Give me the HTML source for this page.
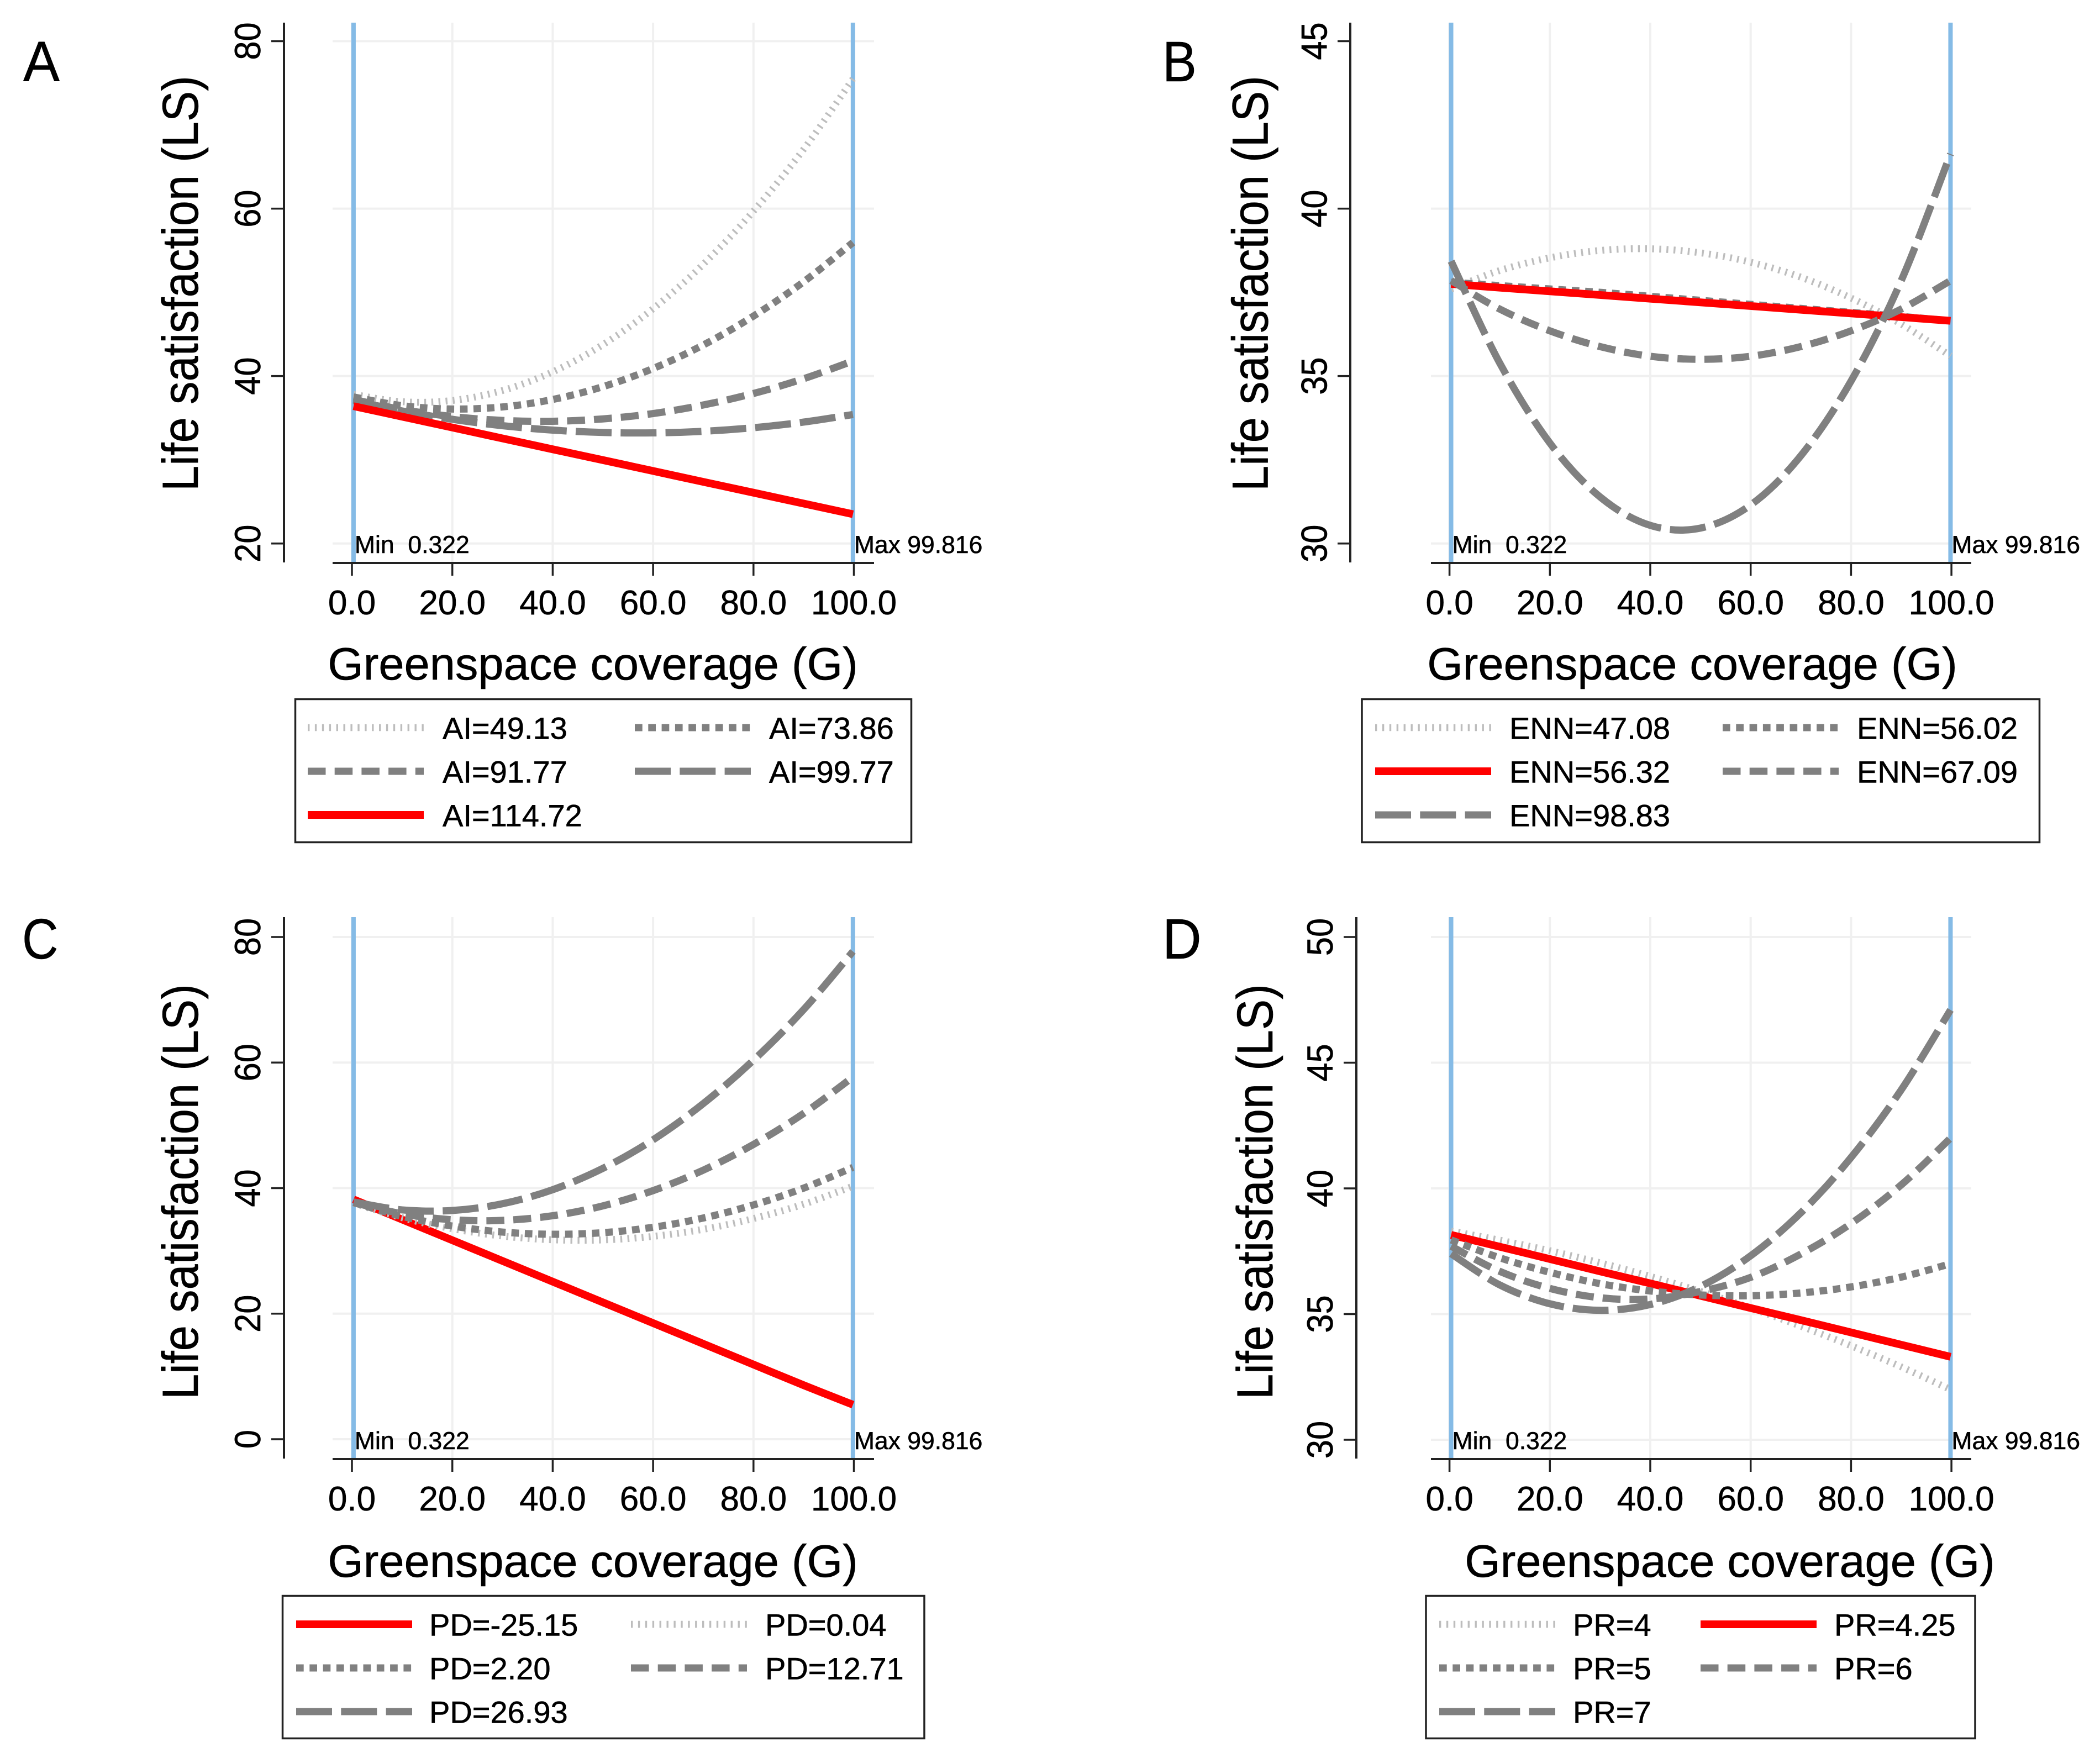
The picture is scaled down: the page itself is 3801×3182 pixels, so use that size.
<!DOCTYPE html>
<html lang="en">
<head>
<meta charset="utf-8">
<title>Life satisfaction versus greenspace coverage</title>
<style>
html,body{margin:0;padding:0;background:#fff;}
body{width:3801px;height:3182px;overflow:hidden;}
svg{display:block;}
text{font-family:"Liberation Sans",Arial,sans-serif;fill:#000;stroke:#000;stroke-width:0.6px;}
</style>
</head>
<body>
<svg id="figure" xmlns="http://www.w3.org/2000/svg" width="3801" height="3182" viewBox="0 0 3801 3182"></svg>
<script>
// ---- shared data ----
const greenspaceValues = [0.322, 10, 20, 30, 40, 50, 60, 70, 80, 90, 99.816];
const xTickValues = [0, 20, 40, 60, 80, 100];
const xTickLabels = ['0.0', '20.0', '40.0', '60.0', '80.0', '100.0'];
const xAxisTitle = 'Greenspace coverage (G)';
const yAxisTitle = 'Life satisfaction (LS)';
const minLabel = 'Min\u00A0\u00A00.322';
const maxLabel = 'Max 99.816';
const minValue = 0.322;
const maxValue = 99.816;

// ---- panel A ----
const aYTicks = [20, 40, 60, 80];
const aYGrid = [20, 40, 60, 80];
const ai4913 = [37.8, 36.93, 37.08, 38.27, 40.5, 43.75, 48.04, 53.35, 59.7, 67.09, 75.5];
const ai7386 = [37.5, 36.46, 36.06, 36.31, 37.2, 38.73, 40.9, 43.71, 47.16, 51.26, 55.95];
const ai9177 = [37.2, 36.0, 35.16, 34.7, 34.6, 34.88, 35.52, 36.54, 37.92, 39.68, 41.8];
const ai9977 = [37.07, 35.83, 34.83, 34.07, 33.54, 33.26, 33.21, 33.4, 33.83, 34.5, 35.4];
const ai11472 = [36.4, 35.15, 33.85, 32.55, 31.25, 29.96, 28.66, 27.36, 26.07, 24.77, 23.5];

// ---- panel B ----
const bYTicks = [30, 35, 40, 45];
const bYGrid = [30, 35, 40];
const enn4708 = [37.6, 38.15, 38.53, 38.75, 38.8, 38.68, 38.4, 37.95, 37.33, 36.55, 35.6];
const enn5602 = [37.8, 37.7, 37.6, 37.5, 37.38, 37.26, 37.14, 37.02, 36.9, 36.78, 36.65];
const enn5632 = [37.75, 37.64, 37.53, 37.42, 37.31, 37.2, 37.09, 36.98, 36.87, 36.76, 36.65];
const enn6709 = [37.85, 37.0, 36.35, 35.88, 35.59, 35.5, 35.59, 35.88, 36.35, 37.0, 37.85];
const enn9883 = [38.43, 35.39, 33.0, 31.39, 30.54, 30.46, 31.15, 32.62, 34.85, 37.85, 41.63];

// ---- panel C ----
const cYTicks = [0, 20, 40, 60, 80];
const cYGrid = [0, 20, 40, 60, 80];
const pdNeg2515 = [38.2, 35.0, 31.7, 28.4, 25.1, 21.8, 18.5, 15.2, 11.9, 8.6, 5.5];
const pd004 = [37.6, 35.28, 33.53, 32.36, 31.77, 31.75, 32.31, 33.44, 35.15, 37.44, 40.3];
const pd220 = [37.7, 35.5, 33.96, 33.0, 32.65, 32.9, 33.76, 35.24, 37.32, 40.0, 43.3];
const pd1271 = [37.7, 35.91, 34.96, 34.86, 35.6, 37.17, 39.6, 42.86, 46.96, 51.9, 57.7];
const pd2693 = [37.8, 36.53, 36.44, 37.51, 39.75, 43.15, 47.7, 53.47, 60.38, 68.45, 77.7];

// ---- panel D ----
const dYTicks = [30, 35, 40, 45, 50];
const dYGrid = [30, 35, 40, 45, 50];
const pr4 = [38.3, 37.94, 37.52, 37.04, 36.5, 35.9, 35.24, 34.52, 33.74, 32.9, 32.0];
const pr425 = [38.15, 37.68, 37.19, 36.7, 36.22, 35.73, 35.24, 34.76, 34.27, 33.78, 33.3];
const pr5 = [37.95, 37.24, 36.66, 36.21, 35.92, 35.76, 35.73, 35.84, 36.08, 36.47, 37.0];
const pr6 = [37.7, 36.7, 36.02, 35.65, 35.6, 35.9, 36.46, 37.39, 38.6, 40.14, 42.0];
const pr7 = [37.4, 36.16, 35.41, 35.15, 35.38, 36.1, 37.32, 39.03, 41.23, 43.92, 47.1];

// ---- line styles ----
const STYLES = {
  thin:  {color: '#bdbdbd', width: 12.5, dash: '3.4 9.5'},
  dot:   {color: '#808080', width: 13, dash: '13.7 10.6'},
  dash:  {color: '#808080', width: 13, dash: '32.5 16.2'},
  long:  {color: '#808080', width: 13, dash: '65 16.3'},
  red:   {color: '#ff0000', width: 14, dash: ''}
};

// ---- panel layouts ----
const panels = [
  {
    id: 'a', letter: 'A', letterX: 42, letterY: 147, letterScale: 0.96,
    x0: 637, axisLeft: 602, axisRight: 1582, yAxisX: 514, top: 41, axisY: 1019,
    lowY: 983.7, highY: 74.5, ticks: aYTicks, gridTicks: aYGrid,
    yLabelX: 471, yTitleX: 358, yTitleY: 513, xTitleX: 1073, xTitleDy: 211,
    legend: {x: 534.5, y: 1265.5, w: 1115, h: 259, col: [[557, 801], [1149, 1392]]},
    series: [
      {label: 'AI=49.13', values: ai4913, style: 'thin', col: 0, row: 0},
      {label: 'AI=73.86', values: ai7386, style: 'dot', col: 1, row: 0},
      {label: 'AI=91.77', values: ai9177, style: 'dash', col: 0, row: 1},
      {label: 'AI=99.77', values: ai9977, style: 'long', col: 1, row: 1},
      {label: 'AI=114.72', values: ai11472, style: 'red', col: 0, row: 2}
    ]
  },
  {
    id: 'b', letter: 'B', letterX: 2104, letterY: 147, letterScale: 0.9,
    x0: 2623.6, axisLeft: 2590, axisRight: 3568, yAxisX: 2444, top: 41, axisY: 1019,
    lowY: 983.7, highY: 74.5, ticks: bYTicks, gridTicks: bYGrid,
    yLabelX: 2401.5, yTitleX: 2294.5, yTitleY: 513, xTitleX: 3063, xTitleDy: 211,
    legend: {x: 2465, y: 1265.5, w: 1226.5, h: 259, col: [[2489, 2732], [3118, 3361]]},
    series: [
      {label: 'ENN=47.08', values: enn4708, style: 'thin', col: 0, row: 0},
      {label: 'ENN=56.02', values: enn5602, style: 'dot', col: 1, row: 0},
      {label: 'ENN=56.32', values: enn5632, style: 'red', col: 0, row: 1},
      {label: 'ENN=67.09', values: enn6709, style: 'dash', col: 1, row: 1},
      {label: 'ENN=98.83', values: enn9883, style: 'long', col: 0, row: 2}
    ]
  },
  {
    id: 'c', letter: 'C', letterX: 40, letterY: 1735, letterScale: 0.88,
    x0: 637, axisLeft: 602, axisRight: 1582, yAxisX: 514, top: 1660, axisY: 2641,
    lowY: 2605, highY: 1696, ticks: cYTicks, gridTicks: cYGrid,
    yLabelX: 471, yTitleX: 358, yTitleY: 2157, xTitleX: 1073, xTitleDy: 213,
    legend: {x: 511.5, y: 2888.5, w: 1161.5, h: 258, col: [[536, 777], [1142, 1385]]},
    series: [
      {label: 'PD=-25.15', values: pdNeg2515, style: 'red', col: 0, row: 0},
      {label: 'PD=0.04', values: pd004, style: 'thin', col: 1, row: 0},
      {label: 'PD=2.20', values: pd220, style: 'dot', col: 0, row: 1},
      {label: 'PD=12.71', values: pd1271, style: 'dash', col: 1, row: 1},
      {label: 'PD=26.93', values: pd2693, style: 'long', col: 0, row: 2}
    ]
  },
  {
    id: 'd', letter: 'D', letterX: 2104, letterY: 1735, letterScale: 0.95,
    x0: 2623.6, axisLeft: 2590, axisRight: 3568, yAxisX: 2455, top: 1660, axisY: 2641,
    lowY: 2606, highY: 1696, ticks: dYTicks, gridTicks: dYGrid,
    yLabelX: 2412, yTitleX: 2303, yTitleY: 2157, xTitleX: 3131, xTitleDy: 213,
    legend: {x: 2581, y: 2888.5, w: 994, h: 258, col: [[2605, 2847], [3078, 3320]]},
    series: [
      {label: 'PR=4', values: pr4, style: 'thin', col: 0, row: 0},
      {label: 'PR=4.25', values: pr425, style: 'red', col: 1, row: 0},
      {label: 'PR=5', values: pr5, style: 'dot', col: 0, row: 1},
      {label: 'PR=6', values: pr6, style: 'dash', col: 1, row: 1},
      {label: 'PR=7', values: pr7, style: 'long', col: 0, row: 2}
    ]
  }
];

// ---- drawing ----
const SVG_NS = 'http://www.w3.org/2000/svg';
const PX_PER_G = 9.085;
const figure = document.getElementById('figure');

function line(parent, x1, y1, x2, y2, color, width, name) {
  const el = document.createElementNS(SVG_NS, 'line');
  el.setAttribute('x1', x1);
  el.setAttribute('y1', y1);
  el.setAttribute('x2', x2);
  el.setAttribute('y2', y2);
  el.setAttribute('stroke', color);
  el.setAttribute('stroke-width', width);
  
  
  parent.appendChild(el);
  return el;
}

function text(parent, content, x, y, size, anchor, name) {
  const el = document.createElementNS(SVG_NS, 'text');
  el.setAttribute('x', x);
  el.setAttribute('y', y);
  el.setAttribute('font-size', size);
  el.setAttribute('text-anchor', anchor);
  el.textContent = content;
  
  
  parent.appendChild(el);
  return el;
}

// y-axis text in the figure is rotated and slightly squeezed along its length
function rotatedText(parent, content, x, y, size, squeeze, name) {
  const el = text(parent, content, 0, 0, size, 'middle', name);
  el.setAttribute('transform', 'translate(' + x + ' ' + y + ') rotate(-90) scale(' + squeeze + ' 1)');
  return el;
}

function group(parent, name) {
  const el = document.createElementNS(SVG_NS, 'g');
  
  
  parent.appendChild(el);
  return el;
}

function smoothPath(pts) {
  let d = 'M' + pts[0][0].toFixed(2) + ' ' + pts[0][1].toFixed(2);
  for (let i = 0; i < pts.length - 1; i++) {
    const p0 = pts[Math.max(i - 1, 0)];
    const p1 = pts[i];
    const p2 = pts[i + 1];
    const p3 = pts[Math.min(i + 2, pts.length - 1)];
    const c1x = p1[0] + (p2[0] - p0[0]) / 6;
    const c1y = p1[1] + (p2[1] - p0[1]) / 6;
    const c2x = p2[0] - (p3[0] - p1[0]) / 6;
    const c2y = p2[1] - (p3[1] - p1[1]) / 6;
    d += 'C' + c1x.toFixed(2) + ' ' + c1y.toFixed(2) + ' ' + c2x.toFixed(2) + ' ' + c2y.toFixed(2) + ' ' + p2[0].toFixed(2) + ' ' + p2[1].toFixed(2);
  }
  return d;
}

function drawPanel(p) {
  const g = group(figure, 'panel-' + p.id);
  const xScale = function (v) { return p.x0 + v * PX_PER_G; };
  const lowVal = p.ticks[0];
  const highVal = p.ticks[p.ticks.length - 1];
  const yScale = function (v) { return p.lowY + (v - lowVal) * (p.highY - p.lowY) / (highVal - lowVal); };

  const letter = text(g, p.letter, 0, 0, 103, 'start', 'panel-label');
  letter.setAttribute('transform', 'translate(' + p.letterX + ' ' + p.letterY + ') scale(' + p.letterScale + ' 1)');

  // gridlines
  const grid = group(g, 'gridlines');
  p.gridTicks.forEach(function (t) {
    line(grid, p.axisLeft, yScale(t), p.axisRight, yScale(t), '#f0f0f0', 4, 'y-gridline');
  });
  xTickValues.forEach(function (t) {
    line(grid, xScale(t), p.top, xScale(t), p.axisY, '#f0f0f0', 4, 'x-gridline');
  });

  // reference lines at the sample min and max
  line(g, xScale(minValue), p.top, xScale(minValue), p.axisY, '#85bbe6', 8, 'min-reference-line');
  line(g, xScale(maxValue), p.top, xScale(maxValue), p.axisY, '#85bbe6', 8, 'max-reference-line');

  // axes
  const yAxis = group(g, 'y-axis');
  line(yAxis, p.yAxisX, p.top, p.yAxisX, p.axisY - 1, '#222', 4, 'y-axis-line');
  p.ticks.forEach(function (t) {
    line(yAxis, p.yAxisX - 23, yScale(t), p.yAxisX, yScale(t), '#222', 3.5, 'y-tick');
    rotatedText(yAxis, String(t), p.yLabelX, yScale(t), 66, 0.93, 'y-tick-label');
  });
  rotatedText(yAxis, yAxisTitle, p.yTitleX, p.yTitleY, 92, 0.902, 'y-axis-title');

  const xAxis = group(g, 'x-axis');
  line(xAxis, p.axisLeft, p.axisY, p.axisRight, p.axisY, '#222', 4, 'x-axis-line');
  xTickValues.forEach(function (t, i) {
    line(xAxis, xScale(t), p.axisY, xScale(t), p.axisY + 23, '#222', 3.5, 'x-tick');
    text(xAxis, xTickLabels[i], xScale(t), p.axisY + 93, 62, 'middle', 'x-tick-label');
  });
  text(xAxis, xAxisTitle, p.xTitleX, p.axisY + p.xTitleDy, 83, 'middle', 'x-axis-title');

  text(g, minLabel, xScale(minValue) + 2, p.axisY - 18, 44.5, 'start', 'min-label');
  text(g, maxLabel, xScale(maxValue) + 2, p.axisY - 18, 44.5, 'start', 'max-label');

  // series in legend order, so overlaps stack as in the figure
  const lines = group(g, 'series-lines');
  p.series.forEach(function (s) {
    const st = STYLES[s.style];
    const pts = s.values.map(function (v, i) { return [xScale(greenspaceValues[i]), yScale(v)]; });
    const el = document.createElementNS(SVG_NS, 'path');
    el.setAttribute('d', smoothPath(pts));
    el.setAttribute('fill', 'none');
    el.setAttribute('stroke', st.color);
    el.setAttribute('stroke-width', st.width);
    if (st.dash) el.setAttribute('stroke-dasharray', st.dash);
    
    
    lines.appendChild(el);
  });

  // legend
  const L = p.legend;
  const lg = group(g, 'legend');
  const box = document.createElementNS(SVG_NS, 'rect');
  box.setAttribute('x', L.x);
  box.setAttribute('y', L.y);
  box.setAttribute('width', L.w);
  box.setAttribute('height', L.h);
  box.setAttribute('fill', '#fff');
  box.setAttribute('stroke', '#222');
  box.setAttribute('stroke-width', 3.5);
  
  
  lg.appendChild(box);
  const rowOffsets = [51.5, 130.5, 209.5];
  p.series.forEach(function (s) {
    const st = STYLES[s.style];
    const cy = L.y + rowOffsets[s.row];
    const entry = group(lg, 'legend-entry');
    const sw = line(entry, L.col[s.col][0], cy, L.col[s.col][0] + 210, cy, st.color, st.width, 'legend-swatch');
    if (st.dash) sw.setAttribute('stroke-dasharray', st.dash);
    text(entry, s.label, L.col[s.col][1], cy + 20.5, 56, 'start', 'legend-label');
  });
}

panels.forEach(drawPanel);
</script>
</body>
</html>
